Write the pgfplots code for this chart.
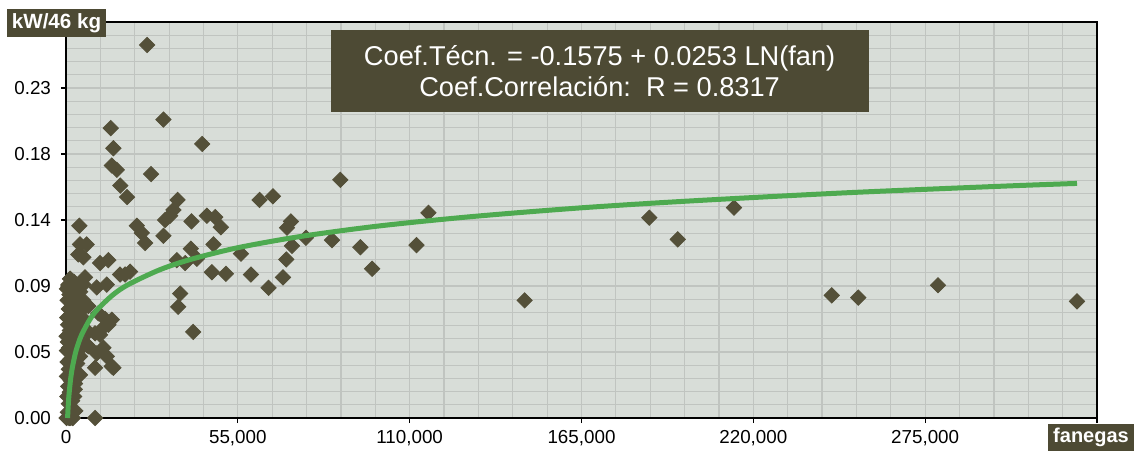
\documentclass[border=0pt]{standalone}
\usepackage{pgfplots}
\pgfplotsset{compat=1.18}
\usepackage{pgfplotstable}
\usepackage{fontspec}
\setmainfont{Liberation Sans}
\definecolor{bgcol}{RGB}{216,221,216}
\definecolor{gridcol}{RGB}{192,196,192}
\definecolor{boxcol}{RGB}{77,74,52}
\definecolor{markcol}{RGB}{84,80,57}
\definecolor{fitcol}{RGB}{78,170,80}

\pgfplotstableread{
x y
25960 0.260
31190 0.208
14330 0.202
43600 0.191
15170 0.188
14650 0.176
16250 0.173
27240 0.170
87800 0.166
17400 0.162
19550 0.154
35700 0.152
61960 0.152
66240 0.1545
34400 0.145
33330 0.141
31730 0.138
31190 0.127
22660 0.134
24260 0.129
25320 0.122
40170 0.137
45090 0.141
47750 0.140
49570 0.133
72010 0.137
70730 0.1326
76800 0.1256
72330 0.120
85150 0.124
94230 0.119
97970 0.104
39960 0.118
47210 0.121
41880 0.111
38140 0.108
35480 0.110
55990 0.1145
46700 0.1016
51180 0.1005
59190 0.100
70510 0.1105
69440 0.098
64840 0.0907
36540 0.0867
35900 0.0775
40700 0.060
116000 0.143
112200 0.1205
146800 0.082
186700 0.1396
195800 0.1245
213800 0.1466
245100 0.0855
253600 0.0839
279100 0.0925
323600 0.0813
4270 0.134
4490 0.121
6620 0.121
5560 0.112
3950 0.114
10900 0.108
13560 0.110
1280 0.097
740 0.092
6090 0.098
2880 0.092
5560 0.093
9830 0.091
13040 0.093
17300 0.100
18910 0.100
20510 0.102
3950 0.0825
7150 0.078
10360 0.073
13560 0.065
14650 0.0685
12500 0.069
1820 0.071
9300 0.059
11960 0.063
7150 0.060
10900 0.058
7150 0.050
9830 0.045
11960 0.049
6620 0.051
15170 0.035
9300 0.035
14650 0.036
13040 0.043
4490 0.043
4490 0.030
2880 0.024
9300 0.000
1000 0.000
2000 0.000
200 0.000
600 0.004
900 0.010
400 0.015
1200 0.018
700 0.022
1500 0.026
300 0.029
1800 0.031
900 0.034
2500 0.036
500 0.039
1400 0.041
2200 0.044
300 0.047
1000 0.049
3000 0.051
600 0.053
1800 0.055
200 0.057
2600 0.059
1200 0.061
3500 0.063
700 0.065
2000 0.067
400 0.070
1500 0.072
2800 0.074
900 0.076
3300 0.078
1700 0.080
500 0.082
2400 0.084
1100 0.086
3000 0.088
300 0.090
1900 0.091
800 0.093
2500 0.095
1400 0.097
1300 0.000
2200 0.000
3000 0.005
2000 0.012
2800 0.020
4500 0.088
5000 0.075
4200 0.066
5500 0.082
3800 0.056
4800 0.062
4000 0.047
3600 0.038
3200 0.030
2600 0.015
5200 0.070
}\scatterdata

\pgfplotstableread{
x y
505 0.0000
600 0.0044
800 0.0116
1000 0.0173
1500 0.0275
2000 0.0348
3000 0.0451
4000 0.0523
5000 0.0580
7500 0.0682
10000 0.0755
15000 0.0858
20000 0.0931
30000 0.1033
40000 0.1106
55000 0.1187
75000 0.1265
100000 0.1338
130000 0.1404
165000 0.1465
200000 0.1513
250000 0.1570
300000 0.1616
323600 0.1635
}\fitdata

\begin{document}
\begin{tikzpicture}
\begin{axis}[
  set layers,
  at={(33pt,16.5pt)}, anchor=south west,
  width=515.5pt, height=198pt, scale only axis,
  xmin=0, xmax=330000, ymin=0, ymax=0.276,
  clip=false,
  axis background/.style={fill=bgcol},
  axis line style={black, line width=0.8pt},
  xtick={0,55000,110000,165000,220000,275000,330000},
  xticklabels={0,{55,000},{110,000},{165,000},{220,000},{275,000},{}},
  ytick={0,0.046,0.092,0.138,0.184,0.23,0.276},
  yticklabels={0.00,0.05,0.09,0.14,0.18,0.23,{}},
  scaled ticks=false,
  minor tick num=4,
  grid=both,
  major grid style={draw=gridcol, line width=0.6pt},
  minor grid style={draw=gridcol, line width=0.6pt},
  tick pos=left, tick align=outside,
  major tick length=2.5pt, minor tick length=0pt,
  tick style={black, line width=0.6pt},
  ticklabel style={font=\fontsize{9.4}{11}\selectfont},
  yticklabel style={xshift=-1.5pt},
]
\addplot[only marks, mark=square*, mark size=2.7pt,
  mark options={rotate=45, fill=markcol, draw=markcol}]
  table[x=x, y=y] {\scatterdata};
\addplot[on layer=axis foreground, no marks, draw=fitcol, line width=2.5pt, smooth]
  table[x=x, y=y] {\fitdata};
\node[fill=boxcol, text=white, align=center, inner sep=0pt,
  minimum width=269pt, minimum height=41pt,
  font=\fontsize{13.6}{15.5}\selectfont]
  at (axis cs:170800,0.242)
  {Coef.Técn. = -0.1575 + 0.0253 LN(fan)\\Coef.Correlación:\ \ R = 0.8317};
\end{axis}
\node[fill=boxcol, text=white, inner sep=0pt, minimum width=49.5pt, minimum height=14pt,
  font=\bfseries\fontsize{10.3}{12}\selectfont] at (28.25pt,214pt) {kW/46 kg};
\node[fill=boxcol, text=white, inner sep=0pt, minimum width=43pt, minimum height=13.5pt,
  font=\bfseries\fontsize{10}{12}\selectfont] at (545.5pt,6.75pt) {fanegas};
\pgfresetboundingbox
\useasboundingbox (0,0) rectangle (567pt,225.5pt);
\end{tikzpicture}
\end{document}
